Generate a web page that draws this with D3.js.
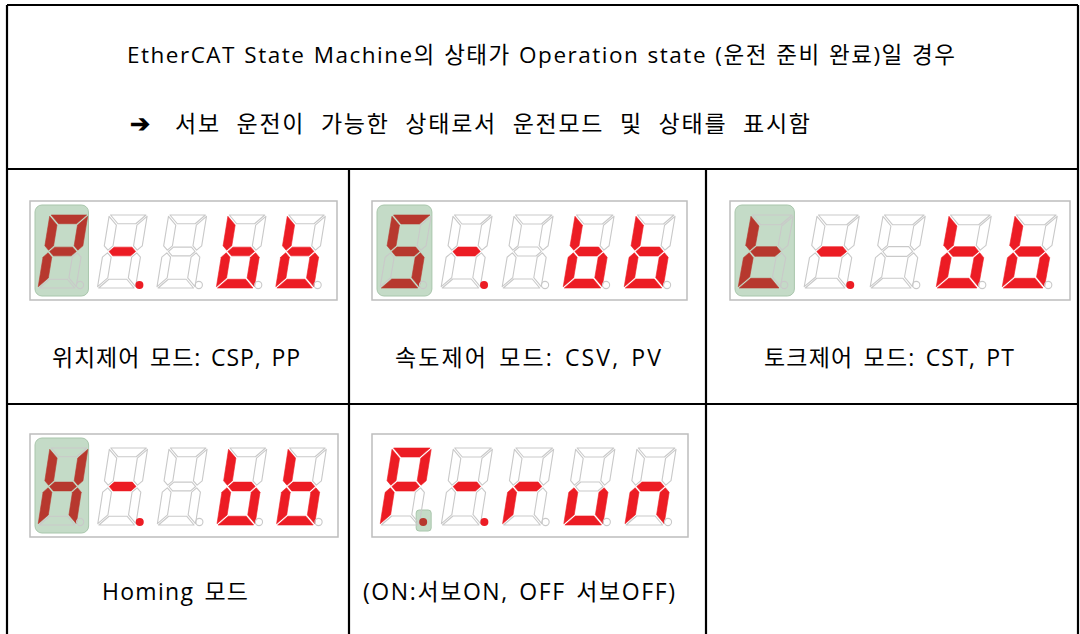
<!DOCTYPE html>
<html><head><meta charset="utf-8">
<script src="https://cdn.jsdelivr.net/npm/d3@7"></script>
<style>
html,body{margin:0;padding:0;background:#fff;}
svg text{font-family:"Open Sans","Noto Sans CJK KR",sans-serif;fill:#000;}
</style></head>
<body><svg id="c" width="1080" height="634"></svg>
<script>
// ---- data ----
const headerLine1 = "EtherCAT State Machine의 상태가 Operation state (운전 준비 완료)일 경우";
const headerLine2 = "서보 운전이 가능한 상태로서 운전모드 및 상태를 표시함";
const cellLabels = ["위치제어 모드: CSP, PP", "속도제어 모드: CSV, PV", "토크제어 모드: CST, PT", "Homing 모드", "(ON:서보ON, OFF 서보OFF)"];
const displayChars = [
  ["P","-"," ","b","b"],
  ["S","-"," ","b","b"],
  ["t","-"," ","b","b"],
  ["H","-"," ","b","b"],
  ["P","-","r","u","n"]
];
const displayDots = [
  [0,1,0,0,0],
  [0,1,0,0,0],
  [0,1,0,0,0],
  [0,1,0,0,0],
  [1,1,0,0,0]
];
const highlightDigit = [0,0,0,0,-1];
const highlightDot = [-1,-1,-1,-1,0];
const segmentMap = {
  "P":"abefg","S":"afgcd","t":"fged","H":"bcefg","-":"g"," ":"",
  "b":"fgedc","r":"ge","u":"edc","n":"egc"
};

// ---- layout ----
const svg = d3.select("#c");
const grid = svg.append("g");
const line = (x1,y1,x2,y2)=>grid.append("line").attr("x1",x1).attr("y1",y1).attr("x2",x2).attr("y2",y2)
  .attr("stroke","#000").attr("stroke-width",2.2);
const L=7,R=1078,T=5,Y1=169,Y2=404,B=640,C1=349,C2=706;
line(L,T,R,T); line(L,T,L,B); line(R,T,R,B);
line(L,Y1,R,Y1); line(L,Y2,R,Y2);
line(C1,Y1,C1,B); line(C2,Y1,C2,B);

function fitText(sel, target){
  const n = sel.node();
  const w = n.getComputedTextLength();
  const chars = n.textContent.length;
  if(chars>1) sel.attr("letter-spacing", (target - w)/(chars-1) + "px");
}

const h1 = svg.append("text").attr("x",127).attr("y",63)
  .attr("font-size",22.5).attr("word-spacing",1).text(headerLine1);
fitText(h1, 828);
svg.append("text").attr("x",130).attr("y",132).attr("font-size",24).attr("font-weight",700)
  .attr("font-family","DejaVu Sans").text("➔");
const h2 = svg.append("text").attr("x",175).attr("y",132).attr("font-size",23).attr("word-spacing",8).text(headerLine2);
fitText(h2, 635);

const cells = [
  {cx:176, ly:366, box:[30,201,337,300], tw:248},
  {cx:528, ly:366, box:[372,201,687,300], tw:266},
  {cx:889, ly:366, box:[730,201,1070,300], tw:250},
  {cx:175, ly:600, box:[30,434,338,537], tw:146},
  {cx:519, ly:600, box:[372,434,688,537], tw:312}
];

cells.forEach((c,i)=>{
  const tx = svg.append("text").attr("x",c.cx - c.tw/2).attr("y",c.ly)
    .attr("font-size",23).attr("word-spacing",3).text(cellLabels[i]);
  fitText(tx, c.tw);
  drawDisplay(c.box, displayChars[i], displayDots[i], highlightDigit[i], highlightDot[i]);
});

function drawDisplay(box, chars, dots, hlDigit, hlDot){
  const [x0,y0,x1,y1] = box;
  const g = svg.append("g");
  g.append("rect").attr("x",x0).attr("y",y0).attr("width",x1-x0).attr("height",y1-y0)
    .attr("fill","#fff").attr("stroke","#bdbdbd").attr("stroke-width",1.5);
  const xs = d3.scaleBand().domain(d3.range(chars.length)).range([x0+8, x1-2]).paddingInner(0);
  const bw = xs.bandwidth();
  const top = y0+14, h = (y1-y0)-26;
  const w = bw*0.64, slant = bw*0.2, t = w*0.23, gap = 1.3;
  const hy = h/2;
  const polys = {
    a:[[gap,0],[w-gap,0],[w-t-gap,t],[t+gap,t]],
    d:[[t+gap,h-t],[w-t-gap,h-t],[w-gap,h],[gap,h]],
    g:[[t/2+gap,hy],[t+gap,hy-t/2],[w-t-gap,hy-t/2],[w-t/2-gap,hy],[w-t-gap,hy+t/2],[t+gap,hy+t/2]],
    f:[[0,gap],[t,t+gap],[t,hy-t/2-gap],[t/2,hy-gap],[0,hy-t/2-gap]],
    e:[[0,hy+t/2+gap],[t/2,hy+gap],[t,hy+t/2+gap],[t,h-t-gap],[0,h-gap]]
  };
  polys.b = polys.f.map(([x,y])=>[w-x,y]);
  polys.c = polys.e.map(([x,y])=>[w-x,y]);
  const skew = (px,[x,y])=>[px + x + slant*(1-y/h), top + y];

  chars.forEach((ch,k)=>{
    const px = xs(k);
    const lit = segmentMap[ch] || "";
    const onGreen = (k===hlDigit);
    if(onGreen){
      g.append("rect").attr("x",px-3).attr("y",y0+4).attr("width",bw*0.9).attr("height",(y1-y0)-8)
        .attr("rx",7).attr("fill","#c4dbc7").attr("stroke","#a9c6ac").attr("stroke-width",1);
    }
    const dx = px + w + 4, dy = top + h - 3;
    if(k===hlDot){
      g.append("rect").attr("x",dx-7).attr("y",dy-12).attr("width",15).attr("height",21)
        .attr("rx",3).attr("fill","#c4dbc7").attr("stroke","#a9c6ac").attr("stroke-width",1);
    }
    "abcdefg".split("").forEach(s=>{
      const on = lit.includes(s);
      const pts = polys[s].map(p=>skew(px,p));
      g.append("polygon").attr("points",pts.map(p=>p.join(",")).join(" "))
        .attr("fill", on ? (onGreen ? "#b7382e" : "#ec1c24") : "none")
        .attr("stroke", on ? (onGreen ? "#b7382e" : "#ec1c24") : "#c9c9c9")
        .attr("stroke-width", on ? 0.6 : 1.1)
        .attr("stroke-linejoin","round");
    });
    const dOn = dots[k]===1;
    g.append("circle").attr("cx",dx).attr("cy",dy).attr("r", dOn?4:3.6)
      .attr("fill", dOn ? (k===hlDot ? "#b7382e" : "#ec1c24") : "none")
      .attr("stroke", dOn ? "none" : "#c9c9c9").attr("stroke-width",1.1);
  });
}
</script></body></html>
